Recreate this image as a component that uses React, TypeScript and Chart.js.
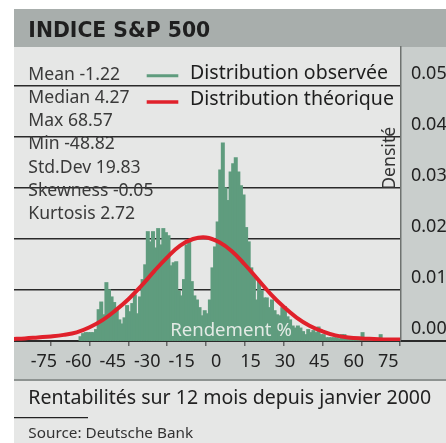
import React, { useEffect, useRef } from "react";
import { Chart, registerables } from "chart.js";

Chart.register(...registerables);

const TITLE = "INDICE S&P 500";
const SERIES_OBSERVED = "Distribution observée";
const SERIES_THEORETICAL = "Distribution théorique";
const X_TITLE = "Rendement %";
const Y_TITLE = "Densité";
const FOOT_NOTE = "Rentabilités sur 12 mois depuis janvier 2000";
const SOURCE = "Source: Deutsche Bank";

const STAT_NAMES = ["Mean", "Median", "Max", "Min", "Std.Dev", "Skewness", "Kurtosis"];
const STAT_VALUES = ["-1.22", "4.27", "68.57", "-48.82", "19.83", "-0.05", "2.72"];

const X_TICK_MARKS = [-60, -45, -30, -15, 0, 15, 30, 45, 60, 75];
const X_TICK_LABELS = [-75, -60, -45, -30, -15, 0, 15, 30, 45, 60, 75];
const Y_TICKS = [0, 0.01, 0.02, 0.03, 0.04, 0.05];

const BIN_WIDTH = 1;
const BIN_START = [
  -49, -48, -47, -46, -45, -44, -43, -42, -41, -40,
  -39, -38, -37, -36, -35, -34, -33, -32, -31, -30,
  -29, -28, -27, -26, -25, -24, -23, -22, -21, -20,
  -19, -18, -17, -16, -15, -14, -13, -12, -11, -10,
  -9, -8, -7, -6, -5, -4, -3, -2, -1, 0,
  1, 2, 3, 4, 5, 6, 7, 8, 9, 10,
  11, 12, 13, 14, 15, 16, 17, 18, 19, 20,
  21, 22, 23, 24, 25, 26, 27, 28, 29, 30,
  31, 32, 33, 34, 35, 36, 37, 38, 39, 40,
  41, 42, 43, 44, 45, 46, 47, 48, 49, 50,
  51, 52, 53, 54, 55, 56, 57, 58, 59, 60,
  61, 62, 63, 64, 65, 66, 67,
];
const BIN_DENSITY = [
  0.0008, 0.0014, 0.0016, 0.0016, 0.0016, 0.0016, 0.0022, 0.0061, 0.0076, 0.0051,
  0.0114, 0.0100, 0.0086, 0.0075, 0.0061, 0.0041, 0.0033, 0.0045, 0.0069, 0.0057,
  0.0073, 0.0090, 0.0053, 0.0086, 0.0120, 0.0149, 0.0214, 0.0194, 0.0214, 0.0182,
  0.0220, 0.0188, 0.0220, 0.0212, 0.0206, 0.0147, 0.0153, 0.0155, 0.0098, 0.0088,
  0.0120, 0.0188, 0.0198, 0.0116, 0.0088, 0.0080, 0.0065, 0.0049, 0.0059, 0.0053,
  0.0080, 0.0143, 0.0184, 0.0233, 0.0335, 0.0388, 0.0300, 0.0275, 0.0331, 0.0347,
  0.0359, 0.0331, 0.0304, 0.0286, 0.0222, 0.0194, 0.0143, 0.0124, 0.0080, 0.0116,
  0.0098, 0.0084, 0.0084, 0.0065, 0.0080, 0.0059, 0.0051, 0.0049, 0.0065, 0.0067,
  0.0047, 0.0041, 0.0029, 0.0025, 0.0029, 0.0025, 0.0018, 0.0012, 0.0022, 0.0016,
  0.0020, 0.0016, 0.0027, 0.0012, 0.0012, 0.0006, 0.0006, 0.0006, 0.0006, 0.0006,
  0.0004, 0.0012, 0.0012, 0.0006, 0.0006, 0.0006, 0.0006, 0.0004, 0.0006, 0.0016,
  0.0004, 0.0004, 0.0004, 0.0004, 0.0004, 0.0004, 0.0012,
];

const CURVE_X = [
  -75, -70, -65, -60, -55, -50, -45, -40, -35, -30, -25, -20, -15, -10, -5, 0,
  5, 10, 15, 20, 25, 30, 35, 40, 45, 50, 55, 60, 65, 70, 75,
];
const CURVE_Y = [
  0.0004, 0.0005, 0.0007, 0.0009, 0.0012, 0.0017, 0.0027, 0.0041, 0.0060, 0.0082,
  0.0108, 0.0137, 0.0164, 0.0187, 0.0200, 0.0203, 0.0194, 0.0176, 0.0150, 0.0121,
  0.0092, 0.0067, 0.0046, 0.0030, 0.0019, 0.0011, 0.0007, 0.0005, 0.0004, 0.0003,
  0.0003,
];

const GREEN = "rgb(95,156,126)";
const RED = "rgb(224,33,43)";
const SANS = "'Noto Sans', sans-serif";

function fitFont(ctx: CanvasRenderingContext2D, text: string, width: number, weight: string, family: string) {
  ctx.font = `${weight} 100px ${family}`;
  const w = ctx.measureText(text).width;
  const size = (100 * width) / w;
  ctx.font = `${weight} ${size.toFixed(2)}px ${family}`;
  return size;
}

export default function App() {
  const ref = useRef<HTMLCanvasElement>(null);

  useEffect(() => {
    document.documentElement.style.overflow = "hidden";
    const canvas = ref.current;
    if (!canvas) return;

    const decor = {
      id: "decor",
      beforeDraw(chart: any) {
        const { ctx, width, height, chartArea: a } = chart;
        const xl = chart.scales.xl;
        ctx.save();
        ctx.fillStyle = "#ffffff";
        ctx.fillRect(0, 0, width, height);
        ctx.fillStyle = "#e6e7e6";
        ctx.fillRect(0, 1, width, height - 1);
        ctx.fillStyle = "#a8aeac";
        ctx.fillRect(0, 1, width, a.top - 1);
        ctx.fillStyle = "#c9cecc";
        ctx.fillRect(a.right, a.top, width - a.right, xl.bottom - a.top);
        ctx.fillRect(0, a.bottom, width, xl.bottom - a.bottom);
        ctx.strokeStyle = "#8e9391";
        ctx.lineWidth = 2;
        ctx.beginPath();
        ctx.moveTo(0, xl.bottom);
        ctx.lineTo(width, xl.bottom);
        ctx.stroke();
        ctx.restore();
      },
      afterDatasetDraw(chart: any, args: any) {
        if (args.index !== 0) return;
        const { ctx } = chart;
        const x = chart.scales.x;
        ctx.save();
        ctx.fillStyle = "#e3eae5";
        ctx.textAlign = "center";
        ctx.textBaseline = "alphabetic";
        fitFont(ctx, X_TITLE, 121.7, "normal", SANS);
        ctx.fillText(X_TITLE, x.left + 217, 328);
        ctx.restore();
      },
      afterDraw(chart: any) {
        const { ctx, width, chartArea: a } = chart;
        ctx.save();
        ctx.strokeStyle = "#2a2a2a";
        ctx.lineWidth = 2;
        ctx.beginPath();
        ctx.moveTo(a.right, a.bottom);
        ctx.lineTo(width, a.bottom);
        ctx.stroke();

        ctx.textAlign = "left";
        ctx.textBaseline = "alphabetic";
        ctx.fillStyle = "#1f1f1f";
        fitFont(ctx, TITLE, 182, "bold", "'DejaVu Sans', sans-serif");
        ctx.fillText(TITLE, 14.3, 29.3);

        ctx.fillStyle = "#3a3a3a";
        fitFont(ctx, `${STAT_NAMES[0]} ${STAT_VALUES[0]}`, 91.7, "normal", SANS);
        STAT_NAMES.forEach((n, i) => {
          ctx.fillText(`${n} ${STAT_VALUES[i]}`, 14.3, 71.5 + 23.3 * i);
        });

        const ds = chart.data.datasets;
        const legendFont = fitFont(ctx, ds[0].label, 198, "normal", SANS);
        ctx.font = `normal ${legendFont.toFixed(2)}px ${SANS}`;
        ds.forEach((d: any, i: number) => {
          const ly = 67.8 + 26.2 * i;
          ctx.strokeStyle = d.type === "line" ? d.borderColor : d.backgroundColor;
          ctx.lineWidth = i === 0 ? 3 : 3.5;
          ctx.beginPath();
          ctx.moveTo(132.7, ly);
          ctx.lineTo(164.3, ly);
          ctx.stroke();
          ctx.fillStyle = "#1e1e1e";
          ctx.fillText(d.label, 176, 71.3 + 25.5 * i);
        });

        ctx.save();
        ctx.translate(a.right - 6, 150.3);
        ctx.rotate(-Math.PI / 2);
        ctx.textAlign = "center";
        ctx.fillStyle = "#333333";
        fitFont(ctx, Y_TITLE, 63, "normal", SANS);
        ctx.fillText(Y_TITLE, 0, 0);
        ctx.restore();

        ctx.fillStyle = "#222222";
        fitFont(ctx, FOOT_NOTE, 403, "normal", SANS);
        ctx.fillText(FOOT_NOTE, 14.3, 396.3);
        ctx.strokeStyle = "#222222";
        ctx.lineWidth = 1.2;
        ctx.beginPath();
        ctx.moveTo(0, 409.7);
        ctx.lineTo(74, 409.7);
        ctx.stroke();
        ctx.fillStyle = "#333333";
        fitFont(ctx, SOURCE, 165, "normal", SANS);
        ctx.fillText(SOURCE, 14.3, 430.3);
        ctx.restore();
      },
    };

    const chart = new Chart(canvas, {
      type: "bar",
      data: {
        datasets: [
          {
            type: "bar",
            label: SERIES_OBSERVED,
            data: BIN_START.map((b, i) => ({ x: b + BIN_WIDTH / 2, y: BIN_DENSITY[i] })),
            backgroundColor: GREEN,
            borderWidth: 0,
            barPercentage: 1,
            categoryPercentage: 1,
            inflateAmount: 0.7,
            order: 1,
            xAxisID: "x",
            yAxisID: "y",
          },
          {
            type: "line",
            label: SERIES_THEORETICAL,
            data: CURVE_X.map((x, i) => ({ x, y: CURVE_Y[i] })),
            borderColor: RED,
            backgroundColor: RED,
            borderWidth: 4,
            pointRadius: 0,
            tension: 0.4,
            fill: false,
            order: 0,
            xAxisID: "x",
            yAxisID: "y",
          },
        ] as any,
      },
      options: {
        responsive: false,
        animation: false,
        events: [],
        layout: { padding: { top: 39, bottom: 63, left: 0, right: 0 } },
        plugins: {
          legend: { display: false },
          tooltip: { enabled: false },
          title: { display: false },
        },
        scales: {
          x: {
            type: "linear",
            position: "bottom",
            min: -74.21,
            max: 75.36,
            offset: false,
            weight: 0,
            afterBuildTicks: (s: any) => {
              s.ticks = X_TICK_MARKS.map((v) => ({ value: v }));
            },
            afterFit: (s: any) => {
              s.height = 5;
            },
            ticks: { display: false },
            grid: {
              drawOnChartArea: false,
              drawTicks: true,
              tickLength: 5,
              color: "#666666",
              lineWidth: 1.5,
              offset: false,
            },
            border: { display: true, color: "#2a2a2a", width: 2 },
          },
          xl: {
            type: "linear",
            position: "bottom",
            min: -88.05,
            max: 80.56,
            offset: false,
            weight: 1,
            afterBuildTicks: (s: any) => {
              s.ticks = X_TICK_LABELS.map((v) => ({ value: v }));
            },
            afterFit: (s: any) => {
              s.height = 34;
            },
            ticks: {
              padding: 5,
              autoSkip: false,
              maxRotation: 0,
              color: "#222222",
              font: { family: SANS, size: 18 },
              callback: (v: any) => String(v),
            },
            grid: { display: false, drawTicks: false, offset: false },
            border: { display: false },
          },
          y: {
            type: "linear",
            position: "right",
            min: 0,
            max: 0.05765,
            afterBuildTicks: (s: any) => {
              s.ticks = Y_TICKS.map((v) => ({ value: v }));
            },
            afterFit: (s: any) => {
              s.width = 45;
            },
            ticks: {
              padding: 10,
              labelOffset: -12,
              autoSkip: false,
              color: "#222222",
              font: { family: SANS, size: 18 },
              callback: (v: any) => Number(v).toFixed(2),
            },
            grid: { color: "#2a2a2a", lineWidth: 1.5, drawTicks: false },
            border: { display: true, color: "#6f7370", width: 1.5 },
          },
        } as any,
      },
      plugins: [decor],
    });

    return () => chart.destroy();
  }, []);

  return (
    <div style={{ position: "fixed", left: 14, top: 8, width: 432, height: 435 }}>
      <canvas ref={ref} width={432} height={435} style={{ display: "block" }} />
    </div>
  );
}
